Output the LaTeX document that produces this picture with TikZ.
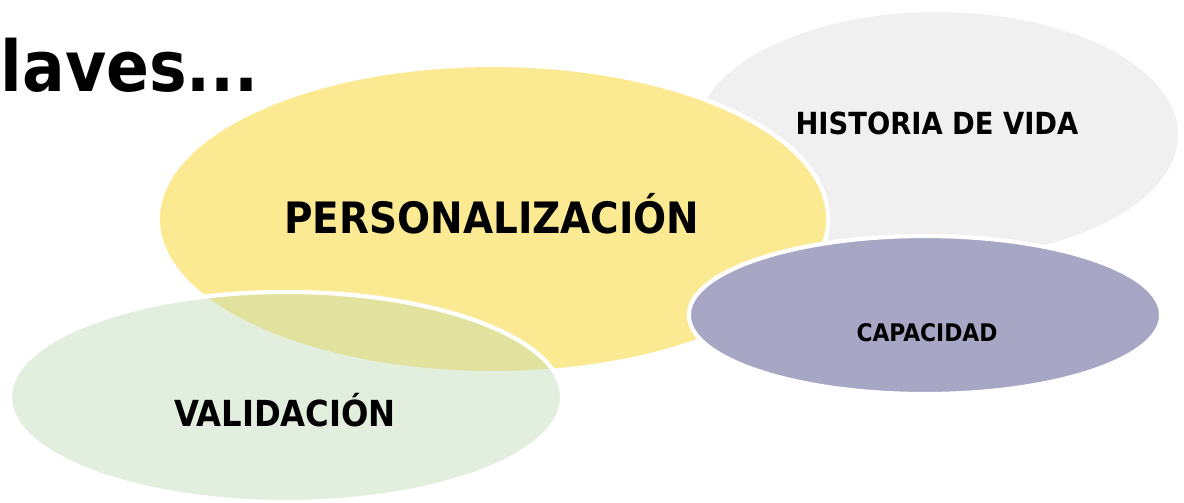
\documentclass[tikz,border=0pt]{standalone}
\usepackage{fontspec}
\newfontfamily\keyfont{DejaVu Sans Condensed Bold}
\usetikzlibrary{shapes.geometric}
\definecolor{histgray}{HTML}{F0F0F0}
\definecolor{persyellow}{HTML}{FCEA93}
\definecolor{capapurple}{HTML}{A7A6C5}
\definecolor{validgreen}{HTML}{B9D7AC}
\begin{document}
\begin{tikzpicture}[x=0.01cm, y=-0.01cm,
  blob/.style={ellipse, draw=white, line width=1.2pt, inner sep=0pt},
  key/.style={font=\keyfont, text=black, inner sep=0pt, anchor=base}]
\useasboundingbox (0,0) rectangle (1184,502);
\node[blob, fill=histgray, minimum width=4.86cm, minimum height=2.5cm] (hist) at (937,135) {};
\node[blob, fill=persyellow, minimum width=6.7cm, minimum height=3.08cm] (pers) at (493,219) {};
\node[blob, fill=capapurple, minimum width=4.72cm, minimum height=1.58cm] (capa) at (925,315) {};
\node[blob, fill=validgreen, fill opacity=0.4, minimum width=5.52cm, minimum height=2.1cm] (valid) at (286,397) {};
% texts
\node[key, font=\keyfont\fontsize{20}{24}\selectfont, anchor=base west] (title) at (0,91) {laves...};
\node[key, font=\keyfont\fontsize{12.3}{14}\selectfont] (perstext) at (492,233) {PERSONALIZACIÓN};
\node[key, font=\keyfont\fontsize{8.65}{10}\selectfont] (histtext) at (937,134) {HISTORIA DE VIDA};
\node[key, font=\keyfont\fontsize{6.9}{8}\selectfont] (capatext) at (927,341) {CAPACIDAD};
\node[key, font=\keyfont\fontsize{10.2}{12}\selectfont] (validtext) at (285,426) {VALIDACIÓN};
\end{tikzpicture}
\end{document}
